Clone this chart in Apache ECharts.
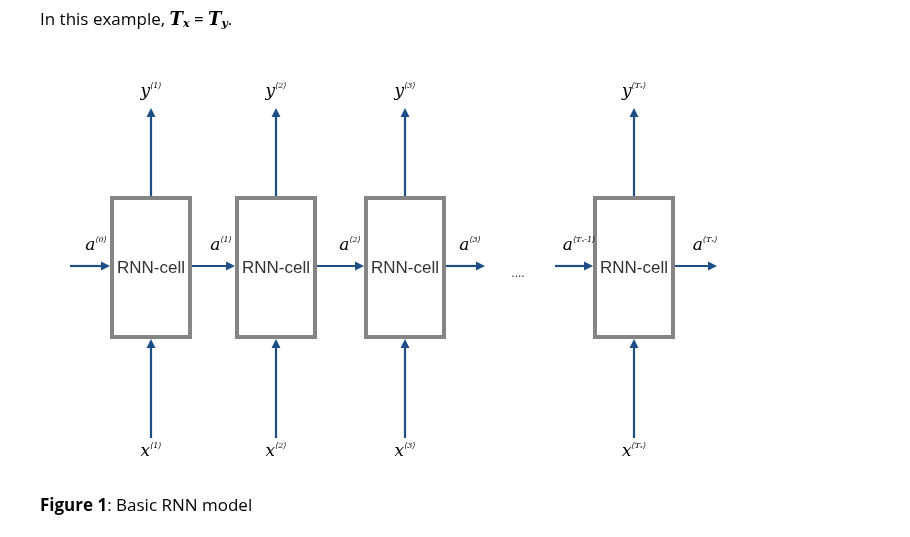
<!DOCTYPE html>
<html><head><meta charset="utf-8">
<script src="https://cdn.jsdelivr.net/npm/echarts@6/dist/echarts.min.js"></script>
<style>html,body{margin:0;background:#fff}#main{width:910px;height:537px}</style>
</head><body><div id="main"></div>
<script>
// time steps shown in the diagram
var stepLabels = ['1', '2', '3', 'T_x'];
var prevLabels = ['0', '1', '2', 'T_x-1'];
var cellCenters = [151, 276, 405, 634];
var cellText = 'RNN-cell';

var blue = '#1d4f86';
var gray = '#858585';
var rich = {
    v: {fontFamily: 'DejaVu Serif', fontStyle: 'italic', fontSize: 17, color: '#222'},
    s: {fontFamily: 'DejaVu Serif', fontStyle: 'italic', fontSize: 8, color: '#222', verticalAlign: 'top', padding: [0, 0, 12, 0]}
};

function supText(v, s) {
    var sup = s.replace('T_x', 'Tₓ');
    return '{v|' + v + '}{s|⟨' + sup + '⟩}';
}

function arrowH(x1, x2, y) {
    return [
        {type: 'line', shape: {x1: x1, y1: y, x2: x2 - 8, y2: y}, style: {stroke: blue, lineWidth: 2.2}},
        {type: 'polygon', shape: {points: [[x2 - 9, y - 4.5], [x2, y], [x2 - 9, y + 4.5]]}, style: {fill: blue}}
    ];
}
function arrowV(x, y1, y2) {
    return [
        {type: 'line', shape: {x1: x, y1: y1, x2: x, y2: y2 + 8}, style: {stroke: blue, lineWidth: 2.2}},
        {type: 'polygon', shape: {points: [[x - 4.5, y2 + 9], [x, y2], [x + 4.5, y2 + 9]]}, style: {fill: blue}}
    ];
}

function buildElements() {
    var els = [];
    els.push({type: 'text', left: 40, top: 11, style: {
        text: '{n|In this example, }{m|T}{ms|x}{n| = }{m|T}{ms|y}{n|.}',
        rich: {
            n: {fontFamily: 'Open Sans', fontSize: 17, color: '#222'},
            m: {fontFamily: 'DejaVu Serif', fontStyle: 'italic', fontWeight: 'bold', fontSize: 18, color: '#222'},
            ms: {fontFamily: 'DejaVu Serif', fontStyle: 'italic', fontWeight: 'bold', fontSize: 11, color: '#222', verticalAlign: 'bottom', padding: [8, 0, 0, 0]}
        }}});

    var ay = 266, boxTop = 198, boxBot = 337, hw = 39;
    cellCenters.forEach(function (cx, i) {
        els.push({type: 'rect', shape: {x: cx - hw, y: boxTop, width: hw * 2, height: boxBot - boxTop},
            style: {fill: '#fff', stroke: gray, lineWidth: 4}});
        els.push({type: 'text', x: cx, y: ay + 2, style: {text: cellText, fontFamily: 'Liberation Sans Narrow, Liberation Sans', fontSize: 17,
            fill: '#333', align: 'center', verticalAlign: 'middle'}});
        els = els.concat(arrowV(cx, boxTop - 2, 108));
        els = els.concat(arrowV(cx, 438, boxBot + 2));
        els.push({type: 'text', x: cx, y: 92, style: {text: supText('y', stepLabels[i]), rich: rich, align: 'center', verticalAlign: 'middle'}});
        els.push({type: 'text', x: cx, y: 452, style: {text: supText('x', stepLabels[i]), rich: rich, align: 'center', verticalAlign: 'middle'}});
        // incoming activation
        var inStart = i === 0 ? 70 : (i === 3 ? 555 : cellCenters[i - 1] + hw + 2);
        els = els.concat(arrowH(inStart, cx - hw - 2, ay));
        els.push({type: 'text', x: cx - hw - 16, y: ay - 20, style: {text: supText('a', prevLabels[i]), rich: rich, align: 'center', verticalAlign: 'middle'}});
    });
    // outgoing activations after cell 3 and the last cell
    els = els.concat(arrowH(cellCenters[2] + hw + 2, 485, ay));
    els.push({type: 'text', x: 470, y: ay - 20, style: {text: supText('a', stepLabels[2]), rich: rich, align: 'center', verticalAlign: 'middle'}});
    els = els.concat(arrowH(cellCenters[3] + hw + 2, 717, ay));
    els.push({type: 'text', x: 705, y: ay - 20, style: {text: supText('a', stepLabels[3]), rich: rich, align: 'center', verticalAlign: 'middle'}});
    els.push({type: 'text', x: 518, y: ay + 8, style: {text: '....', fontSize: 12, fill: '#333', align: 'center', verticalAlign: 'middle'}});

    els.push({type: 'text', left: 40, top: 498, style: {
        text: '{b|Figure 1}{r|: Basic RNN model}',
        rich: {
            b: {fontFamily: 'Open Sans', fontWeight: 'bold', fontSize: 17, color: '#7b1d7e'},
            r: {fontFamily: 'Open Sans', fontSize: 17, color: '#7b1d7e'}
        }}});
    return els;
}

var myChart = echarts.init(document.getElementById('main'));
myChart.setOption({graphic: {elements: buildElements()}});
</script>
</body></html>
